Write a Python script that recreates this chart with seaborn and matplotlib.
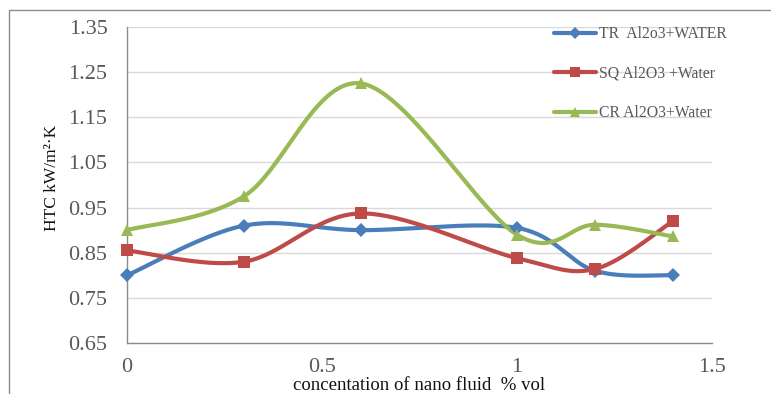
import numpy as np
import pandas as pd
import matplotlib
matplotlib.use("Agg")
import matplotlib.pyplot as plt
from matplotlib.lines import Line2D
import seaborn as sns

# Volume concentration (% vol) and heat transfer coefficient (kW/m2.K)
concentration = [0.0, 0.3, 0.6, 1.0, 1.2, 1.4]
htc_tr = [0.80, 0.91, 0.90, 0.905, 0.81, 0.80]
htc_sq = [0.855, 0.83, 0.937, 0.838, 0.814, 0.92]
htc_cr = [0.90, 0.975, 1.225, 0.89, 0.912, 0.886]

series_names = ["TR  Al2o3+WATER", "SQ Al2O3 +Water", "CR Al2O3+Water"]
series_values = [htc_tr, htc_sq, htc_cr]
series_colors = ["#4A7EBB", "#BE4B48", "#98B954"]
series_markers = ["D", "s", "^"]
marker_sizes = [7.5, 9, 9]

x_ticks = [0, 0.5, 1, 1.5]
x_tick_labels = ["0", "0.5", "1", "1.5"]
y_ticks = [0.65, 0.75, 0.85, 0.95, 1.05, 1.15, 1.25, 1.35]
y_tick_labels = ["0.65", "0.75", "0.85", "0.95", "1.05", "1.15", "1.25", "1.35"]


def smooth_curve(xs, ys, n=40):
    """Bezier smoothing through every point (spreadsheet-style smoothed line)."""
    p = np.column_stack([xs, ys]).astype(float)
    p_ext = np.vstack([p[0], p, p[-1]])
    out = []
    t = np.linspace(0, 1, n)[:, None]
    for i in range(len(p) - 1):
        p0, p1, p2, p3 = p_ext[i], p_ext[i + 1], p_ext[i + 2], p_ext[i + 3]
        c1 = p1 + (p2 - p0) / 6.0
        c2 = p2 - (p3 - p1) / 6.0
        seg = ((1 - t) ** 3) * p1 + 3 * ((1 - t) ** 2) * t * c1 + 3 * (1 - t) * t ** 2 * c2 + t ** 3 * p2
        out.append(seg if i == 0 else seg[1:])
    seg = np.vstack(out)
    return seg[:, 0], seg[:, 1]


sns.set_theme(style="white")
plt.rcParams["font.family"] = ["Liberation Serif", "DejaVu Serif"]

fig = plt.figure(figsize=(7.71, 3.94), dpi=100)
ax = fig.add_axes([127 / 771, 51 / 394, 585 / 771, 316 / 394])

for name, vals, col, mk, ms in zip(series_names, series_values, series_colors,
                                   series_markers, marker_sizes):
    sx, sy = smooth_curve(concentration, vals)
    curve = pd.DataFrame({"x": sx, "y": sy})
    sns.lineplot(data=curve, x="x", y="y", sort=False, color=col, lw=3,
                 ax=ax, zorder=3, estimator=None)
    pts = pd.DataFrame({"x": concentration, "y": vals})
    ax.plot(pts["x"], pts["y"], ls="none", marker=mk, markersize=ms,
            color=col, markeredgewidth=0, zorder=4, clip_on=False)

ax.set_xlim(0, 1.5)
ax.set_ylim(0.65, 1.35)
ax.set_xticks(x_ticks)
ax.set_xticklabels(x_tick_labels)
ax.set_yticks(y_ticks)
ax.set_yticklabels(y_tick_labels)
ax.tick_params(axis="both", length=0, labelsize=16, labelcolor="#595959")
ax.tick_params(axis="x", pad=11)
ax.tick_params(axis="y", pad=14)

ax.yaxis.grid(True, color="#D9D9D9", lw=1)
ax.xaxis.grid(False)
for side in ["top", "right"]:
    ax.spines[side].set_visible(False)
for side in ["left", "bottom"]:
    ax.spines[side].set_color("#8C8C8C")
    ax.spines[side].set_linewidth(1)

ax.set_xlabel("concentation of nano fluid  % vol", fontsize=13.5, color="#111111")
ax.xaxis.set_label_coords(0.5, -42 / 316, transform=ax.transAxes)
ax.xaxis.label.set_va("center")
ax.set_ylabel("HTC kW/m²·K", fontsize=12.5, color="#111111")
ax.yaxis.set_label_coords(-75 / 585, (343 - 178) / 316, transform=ax.transAxes)
ax.yaxis.label.set_va("center")

handles = [Line2D([0], [0], color=c, lw=3, marker=m, markersize=s * 0.75, markeredgewidth=0)
           for c, m, s in zip(series_colors, series_markers, marker_sizes)]
fig.legend(handles, series_names, loc="upper left", bbox_to_anchor=(548 / 771, 1 - 20 / 394),
           frameon=False, fontsize=11.3, labelcolor="#595959", handlelength=2.65,
           handletextpad=0.2, labelspacing=1.5, borderaxespad=0)

# outer chart frame
fig.add_artist(Line2D([9 / 771, 9 / 771], [0, 1 - 10 / 394], color="#8C8C8C", lw=1,
                      transform=fig.transFigure))
fig.add_artist(Line2D([9 / 771, 1], [1 - 10 / 394, 1 - 10 / 394], color="#8C8C8C", lw=1,
                      transform=fig.transFigure))

fig.savefig("out.png", dpi=100)
